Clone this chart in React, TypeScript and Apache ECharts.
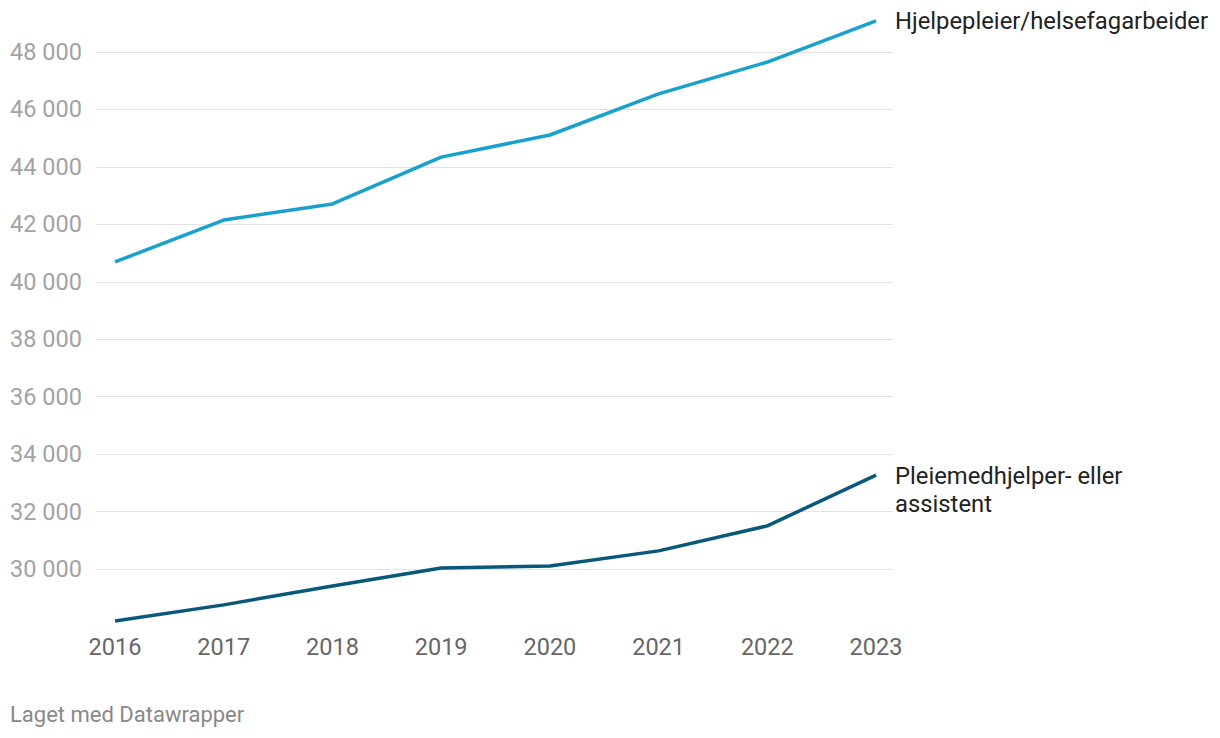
import React, { useEffect, useRef } from "react";
import * as echarts from "echarts";

const years = [2016, 2017, 2018, 2019, 2020, 2021, 2022, 2023];
const helsefag = [40690, 42150, 42710, 44340, 45110, 46540, 47650, 49080];
const pleiemed = [28190, 28750, 29410, 30035, 30105, 30630, 31500, 33270];
const yTicks = [30000, 32000, 34000, 36000, 38000, 40000, 42000, 44000, 46000, 48000];
const seriesNames = ["Hjelpepleier/helsefagarbeider", "Pleiemedhjelper- eller\nassistent"];
const footer = "Laget med Datawrapper";

const fmt = (v: number) => {
  const s = String(Math.round(v));
  return s.replace(/\B(?=(\d{3})+(?!\d))/g, " ");
};

export default function App() {
  const ref = useRef<HTMLDivElement>(null);
  useEffect(() => {
    document.body.style.margin = "0";
    const chart = echarts.init(ref.current!, undefined, { renderer: "svg" });
    const font = "Roboto, 'Noto Sans', sans-serif";
    chart.setOption({
      animation: false,
      backgroundColor: "#ffffff",
      textStyle: { fontFamily: font },
      grid: { left: 96, right: 327, top: 52, height: 574.4, containLabel: false },
      xAxis: {
        type: "value",
        min: 2015.825,
        max: 2023.156,
        axisLine: { show: false },
        axisTick: { show: false },
        splitLine: { show: false },
        axisLabel: {
          customValues: years,
          formatter: (v: number) => String(Math.round(v)),
          color: "#666666",
          fontSize: 23.5,
          margin: 9,
          fontFamily: font,
        },
      },
      yAxis: {
        type: "value",
        min: 28000,
        max: 48000,
        interval: 2000,
        axisLine: { show: false },
        axisTick: { show: false },
        splitLine: { show: true, showMinLine: false, lineStyle: { color: "#e3e3e3", width: 1 } },
        axisLabel: {
          customValues: yTicks,
          formatter: (v: number) => fmt(v),
          color: "#a3a3a3",
          fontSize: 23.5,
          align: "left",
          margin: 86,
          fontFamily: font,
        },
      },
      series: [
        {
          name: seriesNames[0],
          type: "line",
          data: years.map((y, i) => [y, helsefag[i]]),
          clip: false,
          symbol: "none",
          lineStyle: { color: "#18a1cd", width: 3.5 },
          endLabel: {
            show: true,
            formatter: seriesNames[0],
            color: "#222222",
            fontSize: 23.8,
            distance: 19,
            fontFamily: font,
          },
        },
        {
          name: seriesNames[1],
          type: "line",
          data: years.map((y, i) => [y, pleiemed[i]]),
          clip: false,
          symbol: "none",
          lineStyle: { color: "#09587a", width: 3.5 },
          endLabel: {
            show: true,
            formatter: seriesNames[1],
            color: "#222222",
            fontSize: 23.8,
            lineHeight: 28,
            distance: 19,
            offset: [0, 14.5],
            fontFamily: font,
          },
        },
      ],
      graphic: [
        {
          type: "text",
          left: 10,
          top: 703,
          style: { text: footer, fill: "#888888", fontSize: 22, fontFamily: font },
        },
      ],
    });
    return () => chart.dispose();
  }, []);
  return <div ref={ref} style={{ width: 1220, height: 738 }} />;
}
